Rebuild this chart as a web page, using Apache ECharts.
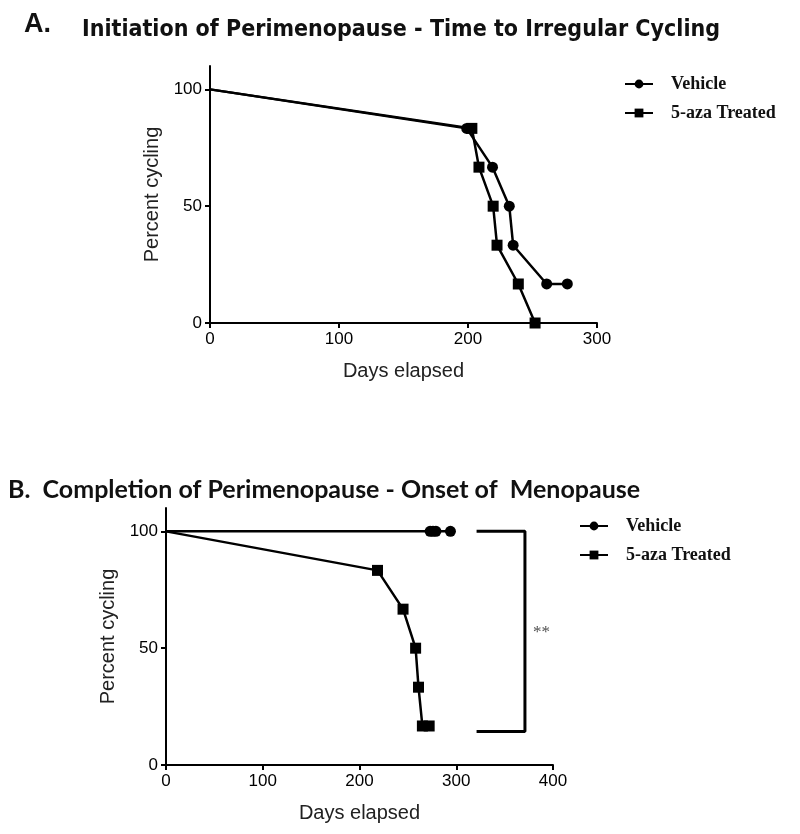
<!DOCTYPE html>
<html><head><meta charset="utf-8">
<script src="https://cdn.jsdelivr.net/npm/echarts@6/dist/echarts.min.js"></script>
<style>html,body{margin:0;padding:0;background:#fff}#c{width:800px;height:834px}</style>
</head><body><div id="c"></div>
<script>
// Panel A: Initiation of Perimenopause (days, percent cycling)
const vehicleA = [[0,100],[199,83.3],[219,66.7],[232,50],[235,33.3],[261,16.7],[277,16.7]];
const treatedA = [[0,100],[203,83.3],[208.5,66.7],[219.5,50],[222.5,33.3],[239,16.7],[252,0]];
// Panel B: Completion of Perimenopause
const vehicleB = [[0,100],[273,100],[276,100],[279,100],[294,100]];
const treatedB = [[0,100],[218.6,83.3],[245,66.7],[258,50],[261,33.3],[265,16.7],[272,16.7]];
const bracketB = [[321,100],[371,100],[371,14.3],[321,14.3]];
const starB = [[388,56.7]];
const yTicks = [0,50,100];
const xTicksA = [0,100,200,300];
const xTicksB = [0,100,200,300,400];
const names = ['Vehicle','5-aza Treated'];

const chart = echarts.init(document.getElementById('c'), null, {renderer:'canvas'});
const axisCommon = {
  axisLine:{show:true,lineStyle:{color:'#000',width:2}},
  axisTick:{show:true,length:5,lineStyle:{color:'#000',width:2}},
  splitLine:{show:false},
  axisLabel:{color:'#000',fontSize:17,fontFamily:'Liberation Sans',margin:8},
  nameTextStyle:{color:'#222',fontSize:20,fontFamily:'Liberation Sans'}
};
function xAx(idx, max, ticks){
  return Object.assign({}, axisCommon, {
    type:'value', gridIndex:idx, min:0, max:max, interval:100,
    name:'Days elapsed', nameLocation:'middle', nameGap:38,
    axisTick:Object.assign({}, axisCommon.axisTick, {customValues:ticks}),
    axisLabel:Object.assign({}, axisCommon.axisLabel, {customValues:ticks})
  });
}
function yAx(idx){
  return Object.assign({}, axisCommon, {
    type:'value', gridIndex:idx, min:0, max:110, interval:50,
    name:'Percent cycling', nameLocation:'middle', nameGap:48,
    axisTick:Object.assign({}, axisCommon.axisTick, {customValues:yTicks}),
    axisLabel:Object.assign({}, axisCommon.axisLabel, {customValues:yTicks})
  });
}
function lineSeries(name, data, sym, xi){
  return {name:name, type:'line', xAxisIndex:xi, yAxisIndex:xi, data:data,
    symbol:sym, symbolSize:11, showAllSymbol:true,
    itemStyle:{color:'#000'}, lineStyle:{color:'#000',width:2.5}, z:3};
}
const symFirstHidden = (data)=>data.map((d,i)=> i===0 ? {value:d, symbol:'none'} : d);

const legendText = {color:'#111',fontSize:18,fontWeight:'bold',fontFamily:'Liberation Serif',padding:[0,0,0,13]};
chart.setOption({
  animation:false,
  backgroundColor:'#fff',
  title:[
    {text:'A.', left:24, top:11, padding:0, textStyle:{fontSize:27,fontWeight:'bold',fontFamily:'Liberation Sans',color:'#111'}},
    {text:'Initiation of Perimenopause - Time to Irregular Cycling', left:82, top:19, padding:0,
      textStyle:{fontSize:23,fontWeight:'bold',fontFamily:'DejaVu Sans Condensed',color:'#111'}},
    {text:'B.  Completion of Perimenopause - Onset of  Menopause', left:8, top:477, padding:0,
      textStyle:{fontSize:25,fontWeight:'bold',fontFamily:'Lato',color:'#111'}}
  ],
  grid:[
    {left:210, top:66, width:387, height:257},
    {left:166, top:508, width:387, height:257}
  ],
  xAxis:[xAx(0,300,xTicksA), xAx(1,400,xTicksB)],
  yAxis:[yAx(0), yAx(1)],
  legend:[
    {orient:'vertical', left:624, top:75, padding:0, itemWidth:28, itemHeight:11, itemGap:11,
     data:names, textStyle:legendText, selectedMode:false},
    {orient:'vertical', left:579, top:517, padding:0, itemWidth:28, itemHeight:11, itemGap:11,
     data:names, textStyle:legendText, selectedMode:false}
  ],
  series:[
    lineSeries('Vehicle', symFirstHidden(vehicleA), 'circle', 0),
    lineSeries('5-aza Treated', symFirstHidden(treatedA), 'rect', 0),
    lineSeries('Vehicle', symFirstHidden(vehicleB), 'circle', 1),
    lineSeries('5-aza Treated', symFirstHidden(treatedB), 'rect', 1),
    {name:'bracket', type:'line', xAxisIndex:1, yAxisIndex:1, data:bracketB, symbol:'none',
     lineStyle:{color:'#000',width:3}, silent:true},
    {name:'sig', type:'scatter', xAxisIndex:1, yAxisIndex:1, data:starB, symbolSize:0,
     label:{show:true, position:'inside', formatter:'**', color:'#222', fontSize:17, fontFamily:'Liberation Serif'}, silent:true}
  ]
});
</script></body></html>
